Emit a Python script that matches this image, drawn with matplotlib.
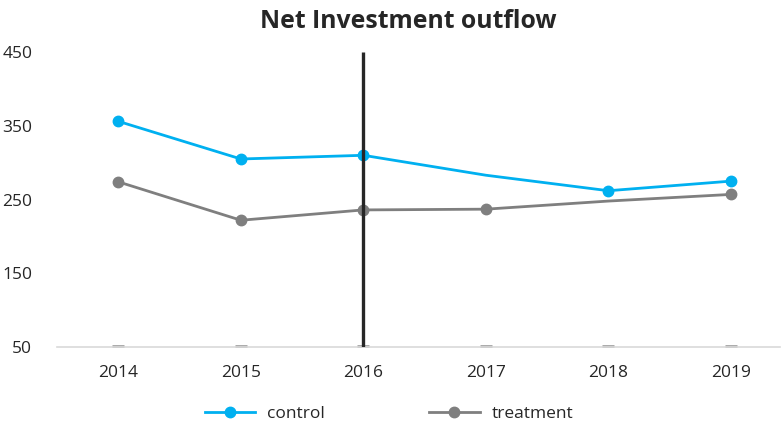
import matplotlib
matplotlib.use("Agg")
from matplotlib import pyplot as plt
import numpy as np

years = [2014, 2015, 2016, 2017, 2018, 2019]
control = [356, 305, 310, 283, 262, 275]
treatment = [274, 222, 236, 237, 248, 257]
control_markers = [0, 1, 2, 4, 5]
treatment_markers = [0, 1, 2, 3, 5]
baseline = [50, 50, 50, 50, 50, 50]
event_year = 2016
yticks = [50, 150, 250, 350, 450]

plt.rcParams['font.family'] = ['Open Sans', 'DejaVu Sans']

fig = plt.figure(figsize=(7.83, 4.26), dpi=100)
ax = fig.add_axes([0.073, 0.185, 0.923, 0.693])

blue = '#00b0f0'
grey = '#7f7f7f'
text_col = '#262626'

ax.plot(years, control, color=blue, lw=2.0, marker='o', ms=7.5,
        markevery=control_markers, label='control', zorder=3)
ax.plot(years, treatment, color=grey, lw=2.0, marker='o', ms=7.5,
        markevery=treatment_markers, label='treatment', zorder=3)
ax.plot(years, baseline, ls='none', marker='_', ms=8, mew=3.5, color='#a6a6a6', zorder=2)
ax.vlines(event_year, 50, 450, color='#262626', lw=2.4, zorder=4)

ax.set_xlim(2013.5, 2019.4)
ax.set_ylim(50, 450)
ax.set_xticks(years)
ax.set_yticks(yticks)
ax.tick_params(axis='both', length=0, labelsize=12.5, colors=text_col, pad=13)
ax.tick_params(axis='y', pad=18)
for s in ['top', 'right', 'left']:
    ax.spines[s].set_visible(False)
ax.spines['bottom'].set_color('#d9d9d9')
ax.spines['bottom'].set_linewidth(1.2)

fig.suptitle('Net Investment outflow', fontsize=17.8, fontweight='bold', y=0.978, x=0.522,
             color=text_col)

handles, labels = ax.get_legend_handles_labels()
fig.legend(handles[:2], labels[:2], loc='lower center', ncol=2, frameon=False,
           fontsize=12.5, columnspacing=6.0, handlelength=2.9, handletextpad=0.7,
           bbox_to_anchor=(0.497, -0.028), labelcolor=text_col)

fig.savefig('out.png', dpi=100)
